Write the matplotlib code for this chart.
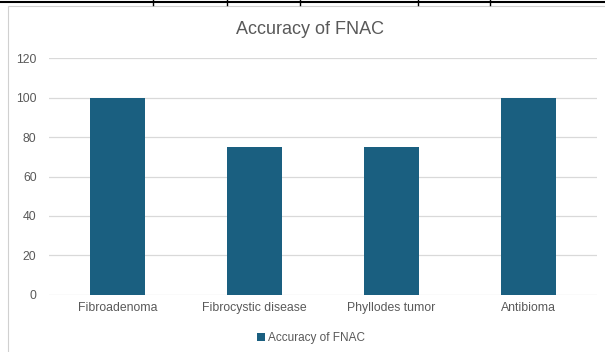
import matplotlib
matplotlib.use("Agg")
import matplotlib.pyplot as plt
from matplotlib.lines import Line2D
from matplotlib.patches import Rectangle

categories = ["Fibroadenoma", "Fibrocystic disease", "Phyllodes tumor", "Antibioma"]
accuracy = [100, 75, 75, 100]
y_ticks = [0, 20, 40, 60, 80, 100, 120]
series_name = "Accuracy of FNAC"

BAR = "#1a5f80"
TXT = "#595959"
W, H = 605, 352

plt.rcParams["font.family"] = ["Liberation Sans", "DejaVu Sans"]

fig = plt.figure(figsize=(W / 100, H / 100), dpi=100)
ax = fig.add_axes([49 / W, 1 - 294.7 / H, 548 / W, (294.7 - 58.3) / H])

x = range(len(categories))
ax.bar(x, accuracy, width=0.4, color=BAR, zorder=3, label=series_name)
ax.set_xlim(-0.5, len(categories) - 0.5)
ax.set_ylim(0, 120)
ax.set_yticks(y_ticks)
ax.set_xticks(list(x))
ax.set_xticklabels(categories)
ax.tick_params(axis="both", length=0, labelsize=8.8, colors=TXT)
ax.tick_params(axis="y", pad=9)
ax.tick_params(axis="x", pad=5)
ax.grid(axis="y", color="#d9d9d9", lw=0.9, zorder=0)
for s in ax.spines.values():
    s.set_visible(False)

# title is centred on the whole chart frame, not the plot area
fig.text(310 / W, 1 - 30 / H, series_name, fontsize=13, color=TXT, ha="center", va="center")

fig.legend(loc="center", bbox_to_anchor=(311 / W, 1 - 338 / H), frameon=False,
           fontsize=8.5, labelcolor=TXT, handlelength=0.65, handleheight=0.65,
           handletextpad=0.3)

# chart frame and table line above it
fig.add_artist(Rectangle((8 / W, -0.1), 1.1, 1 - 6 / H + 0.1, transform=fig.transFigure,
                         fill=False, ec="#d0d0d0", lw=0.8))
fig.add_artist(Line2D([0, 1], [1 - 2 / H] * 2, transform=fig.transFigure, color="k", lw=1.5))
for px in [153, 227, 300, 418, 490]:
    fig.add_artist(Line2D([px / W] * 2, [1, 1 - 5 / H], transform=fig.transFigure,
                          color="k", lw=1))

fig.savefig("out.png", dpi=100)
